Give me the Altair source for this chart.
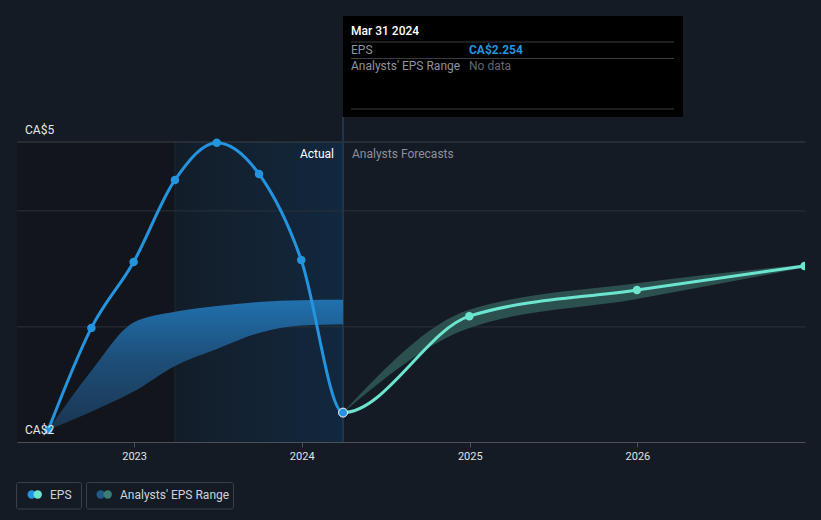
import altair as alt
import pandas as pd
from datetime import date

# ---------------- data ----------------
actual_dates = ["2022-06-28", "2022-09-30", "2022-12-31", "2023-03-31",
                "2023-06-30", "2023-09-30", "2023-12-31", "2024-03-31"]
actual_eps = [2.078, 3.116, 3.787, 4.621, 5.0, 4.682, 3.807, 2.254]

forecast_dates = ["2024-12-31", "2025-12-31", "2026-12-31"]
forecast_eps = [3.235, 3.502, 3.746]

hist_range_low = [2.078, 2.264, 2.468, 2.729, 2.902, 3.065, 3.139, 3.153]
hist_range_high = [2.078, 2.680, 3.170, 3.279, 3.339, 3.380, 3.397, 3.401]

fc_range_dates = ["2024-03-31", "2024-12-31", "2025-12-31", "2026-12-31"]
fc_range_low = [2.254, 3.116, 3.410, 3.730]
fc_range_high = [2.254, 3.300, 3.570, 3.760]

grid_values = [3.126, 4.306]
y_min, y_max = 1.955, 5.007
y_labels = ["CA$2", "CA$5"]
tick_years = [2023, 2024, 2025, 2026]
x_start, x_end = "2022-04-21", "2027-01-01"
past_year_start = "2023-03-31"
last_actual = actual_dates[-1]

# ---------------- style ----------------
BG = "#151b24"
BLUE = "#2394df"
CYAN = "#6ce5d0"
W, H = 788, 300
FONT = "Roboto"

xscale = alt.Scale(type="utc", domain=[alt.DateTime(year=2022, month=4, date=21, utc=True),
                                       alt.DateTime(year=2027, month=1, date=1, utc=True)])
xaxis = alt.Axis(values=[alt.DateTime(year=y, month=1, date=1, utc=True) for y in tick_years],
                 format="%Y", title=None, grid=False, domainColor="#4b5059", domainWidth=1,
                 tickColor="#4b5059", tickSize=5, labelColor="#e0e2e5", labelFontSize=11,
                 labelFont=FONT, labelPadding=3)
yscale = alt.Scale(domain=[y_min, y_max], nice=False, zero=False)


def X(field, **kw):
    return alt.X(field, type="temporal", scale=xscale, axis=xaxis, **kw)


def Y(field, **kw):
    return alt.Y(field, type="quantitative", scale=yscale, axis=None, **kw)


dummy = pd.DataFrame({"a": [0]})

# ---------------- background regions ----------------
regions = pd.DataFrame({"start": [x_start], "end": [past_year_start]})
dark = alt.Chart(regions).mark_rect(color="#12161c").encode(
    x=X("start:T"), x2="end:T", y=alt.value(0), y2=alt.value(H))

hl = pd.DataFrame({"start": [past_year_start], "end": [last_actual]})
highlight = alt.Chart(hl).mark_rect(
    color=alt.Gradient(gradient="linear", x1=0, x2=1, y1=0, y2=0,
                       stops=[alt.GradientStop(color="#131d29", offset=0),
                              alt.GradientStop(color="#12283e", offset=1)])
).encode(x=X("start:T"), x2="end:T", y=alt.value(0), y2=alt.value(H))

hl_left = alt.Chart(hl).mark_rule(color="#1b2836", strokeWidth=1).encode(
    x=X("start:T"), y=alt.value(0), y2=alt.value(H))
hl_right = alt.Chart(hl).mark_rule(color="#1c3652", strokeWidth=2).encode(
    x=X("end:T"), y=alt.value(-25), y2=alt.value(H))

# ---------------- grid ----------------
grid = alt.Chart(pd.DataFrame({"v": grid_values})).mark_rule(
    color="#2c323b", strokeWidth=1).encode(y=Y("v:Q"))
top_line = alt.Chart(pd.DataFrame({"v": [y_max]})).mark_rule(
    color="#3b4049", strokeWidth=1).encode(y=Y("v:Q"))

# ---------------- bands ----------------
hist_df = pd.DataFrame({"date": actual_dates, "low": hist_range_low, "high": hist_range_high})
hist_band = alt.Chart(hist_df).mark_area(
    interpolate="monotone",
    color=alt.Gradient(gradient="linear", x1=0, x2=0, y1=0, y2=1,
                       stops=[alt.GradientStop(color="#2170ad", offset=0),
                              alt.GradientStop(color="#1d4f7a", offset=0.45),
                              alt.GradientStop(color="#1b3550", offset=1)])
).encode(x=X("date:T"), y=Y("high:Q"), y2="low:Q")

fc_df = pd.DataFrame({"date": fc_range_dates, "low": fc_range_low, "high": fc_range_high})
fc_band = alt.Chart(fc_df).mark_area(
    interpolate="monotone", color="#2e5653", opacity=0.9
).encode(x=X("date:T"), y=Y("high:Q"), y2="low:Q")

# ---------------- EPS line (actual + forecast, colour switches at last actual) ----------------
all_dates = actual_dates + forecast_dates
all_eps = actual_eps + forecast_eps
d0 = date.fromisoformat(all_dates[0])
d1 = date.fromisoformat(all_dates[-1])
dl = date.fromisoformat(last_actual)
f = (dl - d0).days / (d1 - d0).days

line_df = pd.DataFrame({"date": all_dates, "eps": all_eps})
eps_line = alt.Chart(line_df).mark_line(
    interpolate="monotone", strokeWidth=3,
    stroke=alt.Gradient(gradient="linear", x1=0, x2=1, y1=0, y2=0,
                        stops=[alt.GradientStop(color=BLUE, offset=0),
                               alt.GradientStop(color=BLUE, offset=f),
                               alt.GradientStop(color=CYAN, offset=f),
                               alt.GradientStop(color=CYAN, offset=1)])
).encode(x=X("date:T"), y=Y("eps:Q"))

act_pts_df = pd.DataFrame({"date": actual_dates[:-1], "eps": actual_eps[:-1]})
act_pts = alt.Chart(act_pts_df).mark_circle(size=72, color=BLUE, opacity=1).encode(
    x=X("date:T"), y=Y("eps:Q"))

fc_pts_df = pd.DataFrame({"date": forecast_dates, "eps": forecast_eps})
fc_pts = alt.Chart(fc_pts_df).mark_circle(size=72, color=CYAN, opacity=1, clip=True).encode(
    x=X("date:T"), y=Y("eps:Q"))

last_df = pd.DataFrame({"date": [last_actual], "eps": [actual_eps[-1]]})
last_pt = alt.Chart(last_df).mark_point(
    filled=True, size=80, fill=BLUE, stroke="#ffffff", strokeWidth=1, opacity=1
).encode(x=X("date:T"), y=Y("eps:Q"))

# ---------------- annotations ----------------
ann = alt.Chart(hl)
actual_txt = ann.mark_text(text="Actual", align="right", baseline="middle", dx=-9,
                           color="#ffffff", fontSize=12, font=FONT).encode(
    x=X("end:T"), y=alt.value(12))
fc_txt = ann.mark_text(text="Analysts Forecasts", align="left", baseline="middle", dx=9,
                       color="#8b9099", fontSize=12, font=FONT).encode(
    x=X("end:T"), y=alt.value(12))

ylab_df = pd.DataFrame({"v": [y_min, y_max], "t": y_labels})
ylabs = alt.Chart(ylab_df).mark_text(align="left", baseline="middle", dy=-12, dx=0,
                                     color="#e8e8e8", fontSize=12, font=FONT).encode(
    x=alt.value(8), y=Y("v:Q"), text="t:N")

# ---------------- tooltip box ----------------
tip = alt.Chart(dummy)
tip_box = tip.mark_rect(color="#000000").encode(
    x=alt.value(326), x2=alt.value(666), y=alt.value(-126), y2=alt.value(-25))
tip_lines = [
    tip.mark_rule(color="#3a3d42", strokeWidth=1).encode(
        x=alt.value(334), x2=alt.value(657), y=alt.value(yy))
    for yy in (-100, -83.5, -33)
]
tip_date = tip.mark_text(text="Mar 31 2024", align="left", baseline="middle",
                         color="#ffffff", fontSize=12, fontWeight=500, font=FONT).encode(
    x=alt.value(334), y=alt.value(-111))
tip_eps_l = tip.mark_text(text="EPS", align="left", baseline="middle",
                          color="#8d939b", fontSize=12, font=FONT).encode(
    x=alt.value(334), y=alt.value(-92.5))
tip_eps_v = tip.mark_text(text=f"CA${actual_eps[-1]:.3f}", align="left", baseline="middle",
                          color=BLUE, fontSize=12, fontWeight="bold", font=FONT).encode(
    x=alt.value(452), y=alt.value(-92.5))
tip_rng_l = tip.mark_text(text="Analysts' EPS Range", align="left", baseline="middle",
                          color="#8d939b", fontSize=12, font=FONT).encode(
    x=alt.value(334), y=alt.value(-76))
tip_rng_v = tip.mark_text(text="No data", align="left", baseline="middle",
                          color="#62676f", fontSize=12, font=FONT).encode(
    x=alt.value(452), y=alt.value(-76))

# ---------------- legend ----------------
leg = alt.Chart(dummy)
leg_box1 = leg.mark_rect(fillOpacity=0, stroke="#3a404a", strokeWidth=1, cornerRadius=2).encode(
    x=alt.value(-0.5), x2=alt.value(64.5), y=alt.value(340.5), y2=alt.value(367))
leg_box2 = leg.mark_rect(fillOpacity=0, stroke="#3a404a", strokeWidth=1, cornerRadius=2).encode(
    x=alt.value(69.5), x2=alt.value(216.5), y=alt.value(340.5), y2=alt.value(367))
leg_c1 = leg.mark_circle(size=70, color=BLUE, opacity=1).encode(x=alt.value(14.7), y=alt.value(352.5))
leg_c2 = leg.mark_circle(size=70, color=CYAN, opacity=1).encode(x=alt.value(20.7), y=alt.value(352.5))
leg_c3 = leg.mark_circle(size=70, color="#1f5a88", opacity=1).encode(x=alt.value(83.7), y=alt.value(352.5))
leg_c4 = leg.mark_circle(size=70, color="#3a7d76", opacity=1).encode(x=alt.value(90.7), y=alt.value(352.5))
leg_t1 = leg.mark_text(text="EPS", align="left", baseline="middle", color="#d0d3d8",
                       fontSize=12, font=FONT).encode(x=alt.value(33), y=alt.value(352.5))
leg_t2 = leg.mark_text(text="Analysts' EPS Range", align="left", baseline="middle", color="#d0d3d8",
                       fontSize=12, font=FONT).encode(x=alt.value(103), y=alt.value(352.5))

chart = alt.layer(
    dark, highlight, hl_left, grid, top_line, hl_right,
    hist_band, fc_band, eps_line, act_pts, fc_pts, last_pt,
    actual_txt, fc_txt, ylabs,
    tip_box, *tip_lines, tip_date, tip_eps_l, tip_eps_v, tip_rng_l, tip_rng_v,
    leg_box1, leg_box2, leg_c1, leg_c2, leg_c3, leg_c4, leg_t1, leg_t2,
).properties(
    width=W, height=H,
    padding={"left": 17, "top": 142, "right": 16, "bottom": 78},
    autosize=alt.AutoSizeParams(type="none"),
    background=BG,
).configure_view(stroke=None).configure_text(font=FONT)

chart.save("out.html", embed_options={"renderer": "svg", "actions": False})
